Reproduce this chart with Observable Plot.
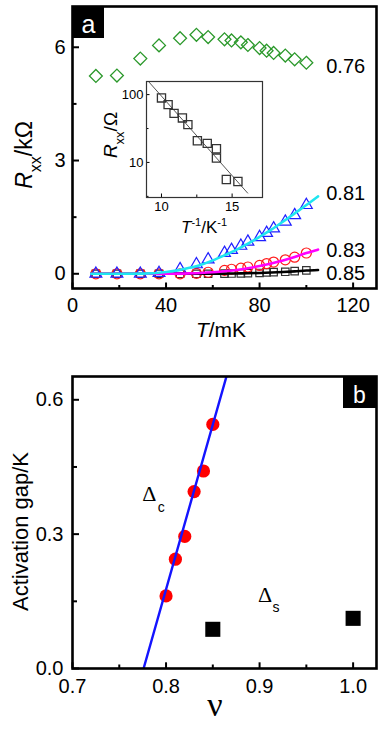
<!DOCTYPE html>
<html><head><meta charset="utf-8">
<script src="https://cdn.jsdelivr.net/npm/d3@7"></script>
<script src="https://cdn.jsdelivr.net/npm/@observablehq/plot@0.6"></script>
<style>
body{margin:0;background:#fff;}
#wrap{position:relative;width:382px;height:731px;overflow:hidden;}
#wrap svg{position:absolute;}
</style></head><body><div id="wrap"></div>
<script>
// ---------- Panel a: Rxx vs T ----------
const T = [10,19,29,37,46,53,58,65,68,72,75,80,83,86,91,95,100];
const r076 = [5.24,5.25,5.70,6.05,6.24,6.33,6.27,6.21,6.18,6.13,6.06,5.98,5.91,5.85,5.78,5.68,5.59];
const r081 = [0,0,0,0.02,0.12,0.25,0.38,0.55,0.63,0.74,0.85,0.97,1.08,1.2,1.38,1.55,1.82];
const r083 = [0,0,0,0,0,0.01,0.04,0.09,0.12,0.15,0.18,0.22,0.27,0.31,0.37,0.44,0.55];
const r085 = [0,0,0,0,0,0,0,0.005,0.006,0.012,0.019,0.021,0.036,0.045,0.053,0.071,0.089];
const fitT   = [8,20,30,40,45,50,55,60,65,70,75,80,85,90,95,100,105];
const fit081 = [0,0,0.003,0.046,0.09,0.157,0.24,0.355,0.49,0.634,0.8,0.98,1.17,1.38,1.6,1.82,2.05];
const fit083 = [0,0,0,0.002,0.004,0.011,0.022,0.04,0.065,0.101,0.147,0.204,0.273,0.354,0.446,0.55,0.64];
const fit085 = [0,0,0,0,0,0.001,0.001,0.002,0.004,0.008,0.013,0.022,0.032,0.046,0.064,0.085,0.1];
const nuLabels = ["0.76","0.81","0.83","0.85"];
const tTicks = [0,40,80,120], tMinor = [20,60,100];
const rTicks = [0,3,6], rMinor = [1.5,4.5];

// ---------- Inset: Arrhenius plot ----------
const invT   = [10,10.47,10.89,11.48,11.87,12.54,13.24,13.89,13.89,14.59,15.41];
const rInset = [89.4,71.2,52.9,45.3,36.1,20.9,19.1,15.9,11.6,5.61,5.24];
const invFit = [9.0,16.1];
const rFit   = [163,3.53];
const invTicks = [10,15], invMinor = [12.5];
const logTicks = [10,100], logMinor = [3.16,31.6];

// ---------- Panel b: activation gap vs filling ----------
const nuC  = [0.80,0.81,0.82,0.83,0.84,0.85];
const gapC = [0.162,0.244,0.295,0.395,0.441,0.545];
const nuS  = [0.85,1.0];
const gapS = [0.0875,0.112];
const nuFit  = [0.776,0.865];
const gapFit = [0,0.655];
const nuTicks = [0.7,0.8,0.9,1.0], nuMinor = [0.75,0.85,0.95];
const gapTicks = [0,0.3,0.6], gapMinor = [0.15,0.45];

const FONT = '"Liberation Sans", Arial, Helvetica, sans-serif';
const SERIF = '"Liberation Serif", "Times New Roman", serif';
const rows = (xs, ys) => xs.map((x, i) => ({x, y: ys[i]}));
const wrap = document.getElementById("wrap");

// ===== top panel =====
const A = {w: 382, h: 345, l: 72, r: 6, t: 6, b: 57};
const AfW = A.w - A.l - A.r, AfH = A.h - A.t - A.b;
const topPlot = Plot.plot({
  width: A.w, height: A.h,
  marginLeft: A.l, marginRight: A.r, marginTop: A.t, marginBottom: A.b,
  x: {domain: [0, 130], label: null},
  y: {domain: [-0.39, 7.08], label: null},
  style: {fontFamily: FONT, fontSize: "20px", background: "transparent", color: "black", overflow: "visible"},
  marks: [
    Plot.axisX(tTicks, {tickSize: 0, tickPadding: 9}),
    Plot.axisY(rTicks, {tickSize: 0, tickPadding: 7}),
    Plot.tickX(tTicks, {x: d => d, insetTop: AfH - 5.5, strokeWidth: 2}),
    Plot.tickX(tMinor, {x: d => d, insetTop: AfH - 3, strokeWidth: 2}),
    Plot.tickY(rTicks, {y: d => d, insetRight: AfW - 7, strokeWidth: 2}),
    Plot.tickY(rMinor, {y: d => d, insetRight: AfW - 4.5, strokeWidth: 2}),
    Plot.dot(rows(T, r076), {x: "x", y: "y", symbol: "diamond2", r: 5.8, stroke: "#2a982a", strokeWidth: 1.3}),
    Plot.dot(rows(T, r085), {x: "x", y: "y", symbol: "square", r: 4.2, stroke: "#333", strokeWidth: 1.2}),
    Plot.dot(rows(T, r083), {x: "x", y: "y", symbol: "circle", r: 5, stroke: "#ff1a1a", strokeWidth: 1.2}),
    Plot.dot(rows(T, r081), {x: "x", y: "y", symbol: "triangle", r: 4.4, stroke: "#1f1fff", strokeWidth: 1.2}),
    Plot.line(rows(fitT, fit085), {x: "x", y: "y", stroke: "#000", strokeWidth: 2.6, curve: "monotone-x"}),
    Plot.line(rows(fitT, fit083), {x: "x", y: "y", stroke: "#ff00ff", strokeWidth: 2.6, curve: "monotone-x"}),
    Plot.line(rows(fitT, fit081), {x: "x", y: "y", stroke: "#1ee6f0", strokeWidth: 2.6, curve: "monotone-x"}),
    Plot.text([nuLabels[0]], {x: 108.5, y: 5.5, text: d => d, textAnchor: "start", fontSize: 20}),
    Plot.text([nuLabels[1]], {x: 108.5, y: 2.13, text: d => d, textAnchor: "start", fontSize: 20}),
    Plot.text([nuLabels[2]], {x: 108.5, y: 0.62, text: d => d, textAnchor: "start", fontSize: 20}),
    Plot.text([nuLabels[3]], {x: 108.5, y: 0.016, text: d => d, textAnchor: "start", fontSize: 20}),
    Plot.frame({strokeWidth: 2.6})
  ]
});
topPlot.style.left = "0px"; topPlot.style.top = "0px";
wrap.appendChild(topPlot);
{
  const s = d3.select(topPlot);
  s.append("rect").attr("x", A.l).attr("y", A.t).attr("width", 32).attr("height", 32).attr("fill", "#000");
  s.append("text").attr("x", A.l + 16.5).attr("y", A.t + 27).attr("text-anchor", "middle")
    .attr("fill", "#fff").attr("font-family", FONT).attr("font-size", 25).text("a");
  const yl = s.append("text").attr("transform", "translate(31.5,155) rotate(-90)")
    .attr("text-anchor", "middle").attr("font-family", FONT).attr("font-size", 23);
  yl.append("tspan").attr("font-style", "italic").text("R");
  yl.append("tspan").attr("font-size", 16).attr("dy", 9).text("xx");
  yl.append("tspan").attr("dy", -9).text("/kΩ");
  const xl = s.append("text").attr("x", 221).attr("y", 337).attr("text-anchor", "middle")
    .attr("font-family", FONT).attr("font-size", 21);
  xl.append("tspan").attr("font-style", "italic").text("T");
  xl.append("tspan").text("/mK");
}

// ===== inset =====
const I = {w: 170, h: 165, l: 46, r: 8, t: 6, b: 43};
const IfW = I.w - I.l - I.r, IfH = I.h - I.t - I.b;
const inset = Plot.plot({
  width: I.w, height: I.h,
  marginLeft: I.l, marginRight: I.r, marginTop: I.t, marginBottom: I.b,
  x: {domain: [8.94, 17.15], label: null},
  y: {type: "log", domain: [3.04, 156], label: null},
  style: {fontFamily: FONT, fontSize: "13px", background: "transparent", color: "black", overflow: "visible"},
  marks: [
    Plot.axisX(invTicks, {tickSize: 0, tickPadding: 4}),
    Plot.axisY(logTicks, {tickSize: 0, tickPadding: 3, tickFormat: d => String(d)}),
    Plot.tickX(invTicks, {x: d => d, insetTop: IfH - 3.5, strokeWidth: 1}),
    Plot.tickX(invMinor, {x: d => d, insetTop: IfH - 2.5, strokeWidth: 1}),
    Plot.tickY(logTicks, {y: d => d, insetRight: IfW - 3.5, strokeWidth: 1}),
    Plot.tickY(logMinor, {y: d => d, insetRight: IfW - 2.5, strokeWidth: 1}),
    Plot.line(rows(invFit, rFit), {x: "x", y: "y", stroke: "#555", strokeWidth: 1, clip: true}),
    Plot.dot(rows(invT, rInset), {x: "x", y: "y", symbol: "square", r: 4.6, stroke: "#333", strokeWidth: 1.3}),
    Plot.frame({strokeWidth: 1.2, stroke: "#333"})
  ]
});
inset.style.left = "100px"; inset.style.top = "75px";
wrap.appendChild(inset);
{
  const s = d3.select(inset);
  const yl = s.append("text").attr("transform", "translate(16.5,60) rotate(-90)")
    .attr("text-anchor", "middle").attr("font-family", FONT).attr("font-size", 19);
  yl.append("tspan").attr("font-style", "italic").text("R");
  yl.append("tspan").attr("font-size", 13).attr("dy", 7).text("xx");
  yl.append("tspan").attr("dy", -7).text("/Ω");
  const xl = s.append("text").attr("x", 104).attr("y", 158).attr("text-anchor", "middle")
    .attr("font-family", FONT).attr("font-size", 17);
  xl.append("tspan").attr("font-style", "italic").text("T");
  xl.append("tspan").attr("font-size", 11).attr("dy", -7).text("-1");
  xl.append("tspan").attr("dy", 7).text("/K");
  xl.append("tspan").attr("font-size", 11).attr("dy", -7).text("-1");
}

// ===== bottom panel =====
const B = {w: 382, h: 371, l: 72, r: 6, t: 16, b: 63};
const BfW = B.w - B.l - B.r, BfH = B.h - B.t - B.b;
const botPlot = Plot.plot({
  width: B.w, height: B.h,
  marginLeft: B.l, marginRight: B.r, marginTop: B.t, marginBottom: B.b,
  x: {domain: [0.7, 1.025], label: null},
  y: {domain: [0, 0.652], label: null},
  style: {fontFamily: FONT, fontSize: "20px", background: "transparent", color: "black", overflow: "visible"},
  marks: [
    Plot.axisX(nuTicks, {tickSize: 0, tickPadding: 10, tickFormat: d3.format(".1f")}),
    Plot.axisY(gapTicks, {tickSize: 0, tickPadding: 9, tickFormat: d3.format(".1f")}),
    Plot.tickX(nuTicks, {x: d => d, insetTop: BfH - 5.7, strokeWidth: 2}),
    Plot.tickX(nuMinor, {x: d => d, insetTop: BfH - 3.5, strokeWidth: 2}),
    Plot.tickY(gapTicks, {y: d => d, insetRight: BfW - 7, strokeWidth: 2}),
    Plot.tickY(gapMinor, {y: d => d, insetRight: BfW - 5, strokeWidth: 2}),
    Plot.dot(rows(nuC, gapC), {x: "x", y: "y", r: 6.6, fill: "#ff0000"}),
    Plot.dot(rows(nuS, gapS), {x: "x", y: "y", symbol: "square", r: 8.5, fill: "#000"}),
    Plot.line(rows(nuFit, gapFit), {x: "x", y: "y", stroke: "#1414ff", strokeWidth: 2.4, clip: true}),
    Plot.text(["Δ"], {x: 0.7745, y: 0.374, text: d => d, textAnchor: "start", lineAnchor: "bottom", fontFamily: SERIF, fontSize: 22}),
    Plot.text(["c"], {x: 0.7745, y: 0.374, text: d => d, textAnchor: "start", lineAnchor: "bottom", dx: 15.5, dy: 11, fontSize: 14}),
    Plot.text(["Δ"], {x: 0.8982, y: 0.149, text: d => d, textAnchor: "start", lineAnchor: "bottom", fontFamily: SERIF, fontSize: 22}),
    Plot.text(["s"], {x: 0.8982, y: 0.149, text: d => d, textAnchor: "start", lineAnchor: "bottom", dx: 14.5, dy: 10, fontSize: 14}),
    Plot.frame({strokeWidth: 2.6})
  ]
});
botPlot.style.left = "0px"; botPlot.style.top = "360px";
wrap.appendChild(botPlot);
{
  const s = d3.select(botPlot);
  s.append("rect").attr("x", B.w - B.r - 33).attr("y", B.t).attr("width", 33).attr("height", 32).attr("fill", "#000");
  s.append("text").attr("x", B.w - B.r - 16.5).attr("y", B.t + 27).attr("text-anchor", "middle")
    .attr("fill", "#fff").attr("font-family", FONT).attr("font-size", 23).text("b");
  s.append("text").attr("transform", "translate(28,171.5) rotate(-90)")
    .attr("text-anchor", "middle").attr("font-family", FONT).attr("font-size", 22).text("Activation gap/K");
  s.append("text").attr("x", 215).attr("y", 356).attr("text-anchor", "middle")
    .attr("font-family", SERIF).attr("font-size", 34).text("ν");
}
</script></body></html>
